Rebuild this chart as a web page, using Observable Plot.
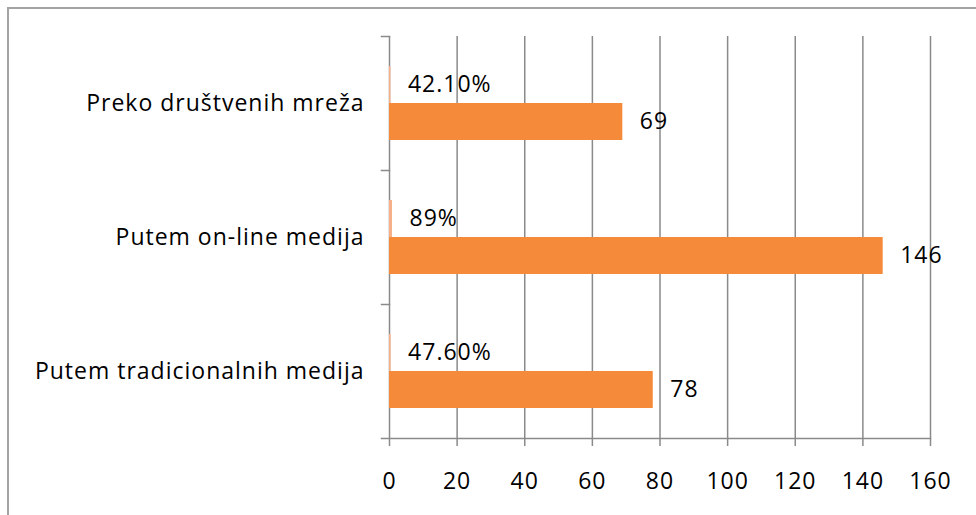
<!DOCTYPE html>
<html>
<head>
<meta charset="utf-8">
<script src="https://cdn.jsdelivr.net/npm/d3@7"></script>
<script src="https://cdn.jsdelivr.net/npm/@observablehq/plot@0.6"></script>
<style>
  html, body { margin: 0; padding: 0; background: #fff; overflow: hidden; }
  #wrap { position: relative; width: 976px; height: 515px; }
  #border { position: absolute; left: 7px; top: 7px; width: 1200px; height: 800px;
            border: 2px solid #a3a3a3; box-sizing: border-box; pointer-events: none; }
  svg { font-family: "Open Sans", sans-serif; }
  svg text { letter-spacing: 1px; }
</style>
</head>
<body>
<div id="wrap"><div id="border"></div></div>
<script>
const categories = ["Preko društvenih mreža", "Putem on-line medija", "Putem tradicionalnih medija"];
const percentValues = [0.421, 0.89, 0.476];
const percentLabels = ["42.10%", "89%", "47.60%"];
const countValues = [69, 146, 78];
const xTicks = [0, 20, 40, 60, 80, 100, 120, 140, 160];

const rows = [];
categories.forEach((c, i) => {
  rows.push({cat: c, series: "pct", value: percentValues[i], label: percentLabels[i]});
  rows.push({cat: c, series: "count", value: countValues[i], label: String(countValues[i])});
});

const W = 976, ML = 381, MR = 46;
const grid = "#8a8a8a";
const fs = 23;

const chart = Plot.plot({
  width: W,
  height: 515,
  marginLeft: ML,
  marginRight: MR,
  marginTop: 35,
  marginBottom: 77,
  style: {fontFamily: "'Open Sans', sans-serif", fontSize: fs + "px", color: "#000", background: "transparent"},
  x: {domain: [0, 160], insetLeft: 8},
  y: {domain: ["pct", "count"], paddingInner: 0, paddingOuter: 0.78, axis: null},
  fy: {domain: categories, padding: 0, label: null},
  marks: [
    Plot.ruleX(xTicks, {stroke: grid, strokeWidth: 1.5}),
    Plot.frame({anchor: "top", insetRight: W - ML - MR - 8, stroke: grid, strokeWidth: 1.5}),
    Plot.frame({anchor: "bottom", facetAnchor: "bottom", stroke: grid, strokeWidth: 1.5}),
    Plot.barX(rows, {x: "value", y: "series", fy: "cat",
      fill: d => d.series === "pct" ? "#F7B088" : "#F48A3A"}),
    Plot.text(rows, {x: "value", y: "series", fy: "cat", text: "label",
      dx: 17, textAnchor: "start", fill: "#000", fontSize: fs}),
    Plot.axisX({ticks: xTicks, tickSize: 8, tickPadding: 26, stroke: grid, strokeWidth: 1.5,
      fontSize: fs, label: null, fill: "#000"}),
    Plot.axisFy({anchor: "left", tickSize: 0, tickPadding: 17, label: null, fontSize: fs, fill: "#000"})
  ]
});
document.getElementById("wrap").prepend(chart);
chart.style.position = "absolute";
chart.style.left = "0px";
chart.style.top = "0px";
</script>
</body>
</html>
